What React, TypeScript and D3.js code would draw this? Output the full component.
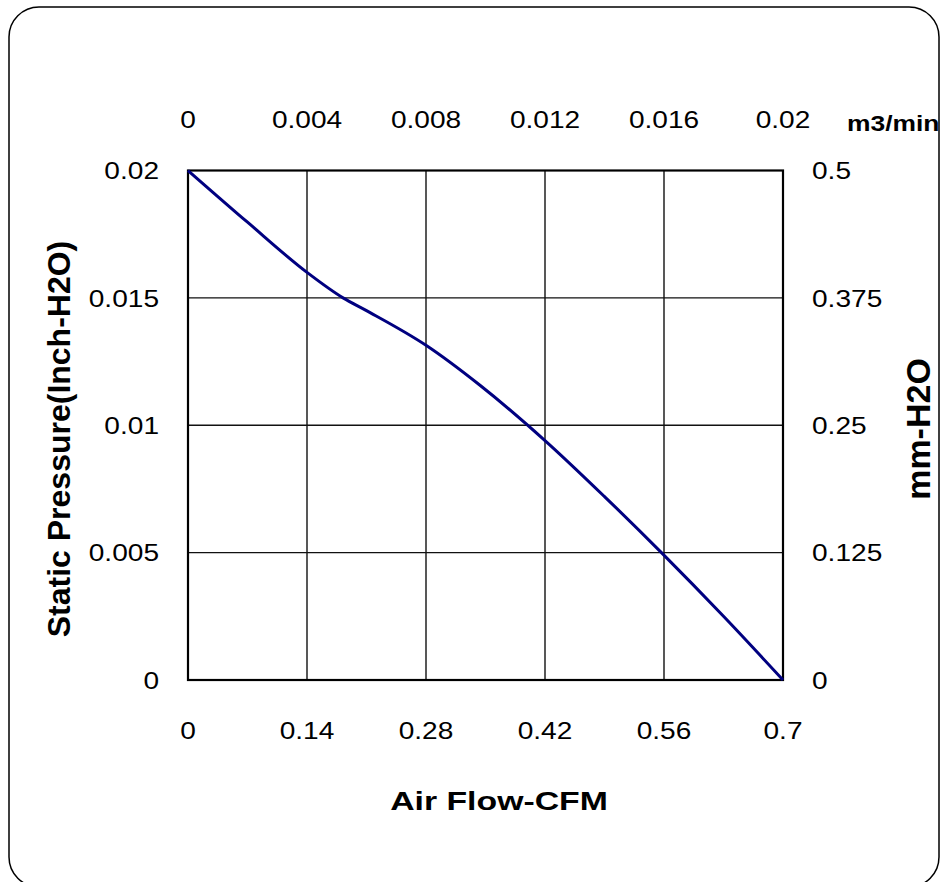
import React from 'react';
import * as d3 from 'd3';

// P-Q curve (CFM vs inch-H2O)
const flowCfm = [0, 0.07, 0.14, 0.1824, 0.21, 0.28, 0.3435, 0.42, 0.49, 0.557, 0.63, 0.7];
const pressureInch = [0.02, 0.01797, 0.016, 0.015, 0.0145, 0.01314, 0.01157, 0.0094, 0.0072, 0.005, 0.0025, 0];

const cfmTicks = [0, 0.14, 0.28, 0.42, 0.56, 0.7];
const m3Ticks = [0, 0.004, 0.008, 0.012, 0.016, 0.02];
const inchTicks = [0, 0.005, 0.01, 0.015, 0.02];
const mmTicks = [0, 0.125, 0.25, 0.375, 0.5];

const FONT = "'Liberation Sans', Arial, sans-serif";
const SX = 1.17; // tick text is drawn a little wide in the reference

const App: React.FC = () => {
  const W = 944, H = 882;
  const plot = { left: 188, right: 783, top: 170.5, bottom: 680 };

  const x = d3.scaleLinear().domain([0, 0.7]).range([plot.left, plot.right]);
  const xTop = d3.scaleLinear().domain([0, 0.02]).range([plot.left, plot.right]);
  const y = d3.scaleLinear().domain([0, 0.02]).range([plot.bottom, plot.top]);
  const yRight = d3.scaleLinear().domain([0, 0.5]).range([plot.bottom, plot.top]);

  const pts: [number, number][] = flowCfm.map((f, i) => [f, pressureInch[i]]);
  const line = d3.line<[number, number]>()
    .x(d => x(d[0]))
    .y(d => y(d[1]))
    .curve(d3.curveMonotoneX);

  return (
    <svg width={W} height={H} style={{ position: 'absolute', left: 0, top: 0 }} fontFamily={FONT}>
      <rect x={0} y={0} width={W} height={H} fill="#fff" />
      {/* outer rounded frame */}
      <rect x={9} y={7} width={930} height={880} rx={30} ry={30} fill="none" stroke="#000" strokeWidth={1.5} />

      {/* grid */}
      {cfmTicks.slice(1, -1).map(t => (
        <line key={'vx' + t} x1={x(t)} x2={x(t)} y1={plot.top} y2={plot.bottom} stroke="#111" strokeWidth={1.4} />
      ))}
      {inchTicks.slice(1, -1).map(t => (
        <line key={'hy' + t} x1={plot.left} x2={plot.right} y1={y(t)} y2={y(t)} stroke="#111" strokeWidth={1.4} />
      ))}
      <rect x={plot.left} y={plot.top} width={plot.right - plot.left} height={plot.bottom - plot.top}
        fill="none" stroke="#000" strokeWidth={2.2} />

      {/* curve */}
      <path d={line(pts) ?? ''} fill="none" stroke="#000080" strokeWidth={3} strokeLinejoin="round" />

      {/* bottom ticks (CFM) */}
      {cfmTicks.map(t => (
        <text key={'b' + t} transform={`translate(${x(t)},739) scale(${SX},1)`} textAnchor="middle" fontSize={24} fill="#000">
          {String(t)}
        </text>
      ))}
      {/* top ticks (m3/min) */}
      {m3Ticks.map(t => (
        <text key={'t' + t} transform={`translate(${xTop(t)},128) scale(${SX},1)`} textAnchor="middle" fontSize={24} fill="#000">
          {String(t)}
        </text>
      ))}
      <text transform={`translate(847,131) scale(1.2,1)`} textAnchor="start" fontSize={22} fontWeight="bold" fill="#000">m3/min</text>

      {/* left ticks (inch) */}
      {inchTicks.map(t => (
        <text key={'l' + t} transform={`translate(159,${y(t)}) scale(${SX},1)`} textAnchor="end" dy="0.36em" fontSize={24} fill="#000">
          {String(t)}
        </text>
      ))}
      {/* right ticks (mm) */}
      {mmTicks.map(t => (
        <text key={'r' + t} transform={`translate(812,${yRight(t)}) scale(${SX},1)`} textAnchor="start" dy="0.36em" fontSize={24} fill="#000">
          {String(t)}
        </text>
      ))}

      {/* axis titles */}
      <text transform={`translate(499,810) scale(1.3,1)`} textAnchor="middle" fontSize={26} fontWeight="bold" fill="#000">
        Air Flow-CFM
      </text>
      <text transform={`translate(70,439) rotate(-90)`} textAnchor="middle" fontSize={32} fontWeight="bold" fill="#000">
        Static Pressure(Inch-H2O)
      </text>
      <text transform={`translate(930,429) rotate(-90)`} textAnchor="middle" fontSize={34} fontWeight="bold" fill="#000">
        mm-H2O
      </text>
    </svg>
  );
};

export default App;
